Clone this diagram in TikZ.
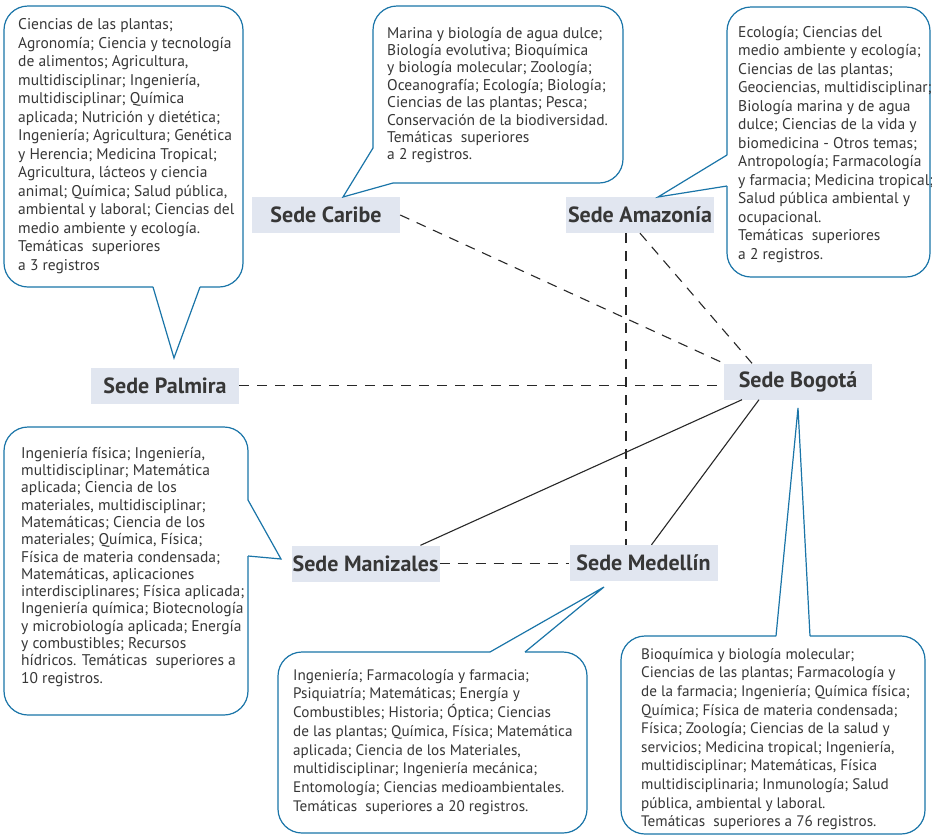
\documentclass[tikz,border=0pt]{standalone}
\usepackage{fontspec}
\setmainfont{PT Sans}
\definecolor{calloutblue}{RGB}{26,117,168}
\definecolor{sedefill}{RGB}{225,230,240}
\definecolor{txt}{RGB}{55,55,55}
\definecolor{linegray}{RGB}{40,40,40}
\begin{document}
\begin{tikzpicture}[x=1pt,y=-1pt,
  sede/.style={fill=sedefill, minimum width=148pt, minimum height=36pt, inner sep=0pt,
    font=\fontsize{22}{26}\selectfont\bfseries, text=txt},
  callout/.style={draw=calloutblue, line width=1.2pt, rounded corners=24pt},
  pointer/.style={draw=calloutblue, line width=1.2pt, line join=miter},
  ctext/.style={anchor=north west, inner sep=0pt, align=left, text=txt},
  dashedlink/.style={draw=linegray, line width=1.1pt, dash pattern=on 10pt off 8pt},
  solidlink/.style={draw=linegray, line width=1.1pt}]
\fill[white] (0,0) rectangle (932,836);
\useasboundingbox (0,0) rectangle (932,836);

% sede nodes
\node[sede] (caribe)    at (326,215)     {Sede Caribe};
\node[sede] (amazonia)  at (640,215)     {Sede Amazonía};
\node[sede] (palmira)   at (165,385.5)   {Sede Palmira};
\node[sede] (bogota)    at (798,381.5)   {Sede Bogotá};
\node[sede] (manizales) at (365.5,563.5) {Sede Manizales};
\node[sede] (medellin)  at (643.5,563)   {Sede Medellín};

% connectors
\draw[dashedlink] (caribe.east) -- (bogota.north west);
\draw[dashedlink] (amazonia.south) -- ([xshift=-46pt]bogota.north);
\draw[dashedlink] ([xshift=-14pt]amazonia.south) -- ([xshift=-14pt]amazonia.south |- medellin.north);
\draw[dashedlink] (palmira.east) -- (palmira.east -| bogota.west);
\draw[dashedlink] (manizales.east) -- (manizales.east -| medellin.west);
\draw[solidlink] ([xshift=-56pt]bogota.south) -- ([xshift=55pt]manizales.north);
\draw[solidlink] ([xshift=-39pt]bogota.south) -- ([xshift=8pt]medellin.north);

% callout Palmira
\draw[callout] (153,287) -- (4,287) -- (4,6) -- (243,6) -- (243,287) -- (200,287);
\draw[pointer] (200,287) -- (174,358) -- (153,287);
\node[ctext, font=\fontsize{15.5}{18.5}\selectfont] (tpalmira) at (18,16.5) {\strut Ciencias de las plantas;\\
Agronomía; Ciencia y tecnología\\
de alimentos; Agricultura,\\
multidisciplinar; Ingeniería,\\
multidisciplinar; Química\\
aplicada; Nutrición y dietética;\\
Ingeniería; Agricultura; Genética\\
y Herencia; Medicina Tropical;\\
Agricultura, lácteos y ciencia\\
animal; Química; Salud pública,\\
ambiental y laboral; Ciencias del\\
medio ambiente y ecología.\\
Temáticas\ \ superiores\\
a 3 registros};

% callout Caribe
\draw[callout] (373,148) -- (373,6) -- (623,6) -- (623,183) -- (393,183);
\draw[pointer] (373,148) -- (343,197) -- (393,183);
\node[ctext, font=\fontsize{15.5}{17.4}\selectfont] (tcaribe) at (387,25.8) {\strut Marina y biología de agua dulce;\\
Biología evolutiva; Bioquímica\\
y biología molecular; Zoología;\\
Oceanografía; Ecología; Biología;\\
Ciencias de las plantas; Pesca;\\
Conservación de la biodiversidad.\\
Temáticas\ \ superiores\\
a 2 registros.};

% callout Amazonia
\draw[callout] (727,155) -- (727,7) -- (930,7) -- (930,277) -- (727,277) -- (727,186);
\draw[pointer] (727,155) -- (658,197) -- (727,186);
\node[ctext, font=\fontsize{15.5}{18.5}\selectfont] (tamazonia) at (738,24) {\strut Ecología; Ciencias del\\
medio ambiente y ecología;\\
Ciencias de las plantas;\\
Geociencias, multidisciplinar;\\
Biología marina y de agua\\
dulce; Ciencias de la vida y\\
biomedicina - Otros temas;\\
Antropología; Farmacología\\
y farmacia; Medicina tropical;\\
Salud pública ambiental y\\
ocupacional.\\
Temáticas\ \ superiores\\
a 2 registros.};

% callout Manizales
\draw[callout] (248,556) -- (248,715) -- (4,715) -- (4,427) -- (248,427) -- (248,500);
\draw[pointer] (248,500) -- (281,559) -- (248,556);
\node[ctext, font=\fontsize{15.5}{17.3}\selectfont] (tmanizales) at (21,445.9) {\strut Ingeniería física; Ingeniería,\\
multidisciplinar; Matemática\\
aplicada; Ciencia de los\\
materiales, multidisciplinar;\\
Matemáticas; Ciencia de los\\
materiales; Química, Física;\\
Física de materia condensada;\\
Matemáticas, aplicaciones\\
interdisciplinares; Física aplicada;\\
Ingeniería química; Biotecnología\\
y microbiología aplicada; Energía\\
y combustibles; Recursos\\
hídricos. Temáticas\ \ superiores a\\
10 registros.};

% callout Medellin
\draw[callout] (525,652) -- (587,652) -- (587,833) -- (278,833) -- (278,652) -- (490,652);
\draw[pointer] (490,652) -- (604,587) -- (525,652);
\node[ctext, font=\fontsize{15.2}{18.75}\selectfont] (tmedellin) at (293,666.9) {\strut Ingeniería; Farmacología y farmacia;\\
Psiquiatría; Matemáticas; Energía y\\
Combustibles; Historia; Óptica; Ciencias\\
de las plantas; Química, Física; Matemática\\
aplicada; Ciencia de los Materiales,\\
multidisciplinar; Ingeniería mecánica;\\
Entomología; Ciencias medioambientales.\\
Temáticas\ \ superiores a 20 registros.};

% callout Bogota
\draw[callout] (810,636) -- (925,636) -- (925,834) -- (621,834) -- (621,636) -- (776,636);
\draw[pointer] (776,636) -- (798,408) -- (810,636);
\node[ctext, font=\fontsize{15.2}{18.6}\selectfont] (tbogota) at (641,646) {\strut Bioquímica y biología molecular;\\
Ciencias de las plantas; Farmacología y\\
de la farmacia; Ingeniería; Química física;\\
Química; Física de materia condensada;\\
Física; Zoología; Ciencias de la salud y\\
servicios; Medicina tropical; Ingeniería,\\
multidisciplinar; Matemáticas, Física\\
multidisciplinaria; Inmunología; Salud\\
pública, ambiental y laboral.\\
Temáticas\ \ superiores a 76 registros.};
\end{tikzpicture}
\end{document}
